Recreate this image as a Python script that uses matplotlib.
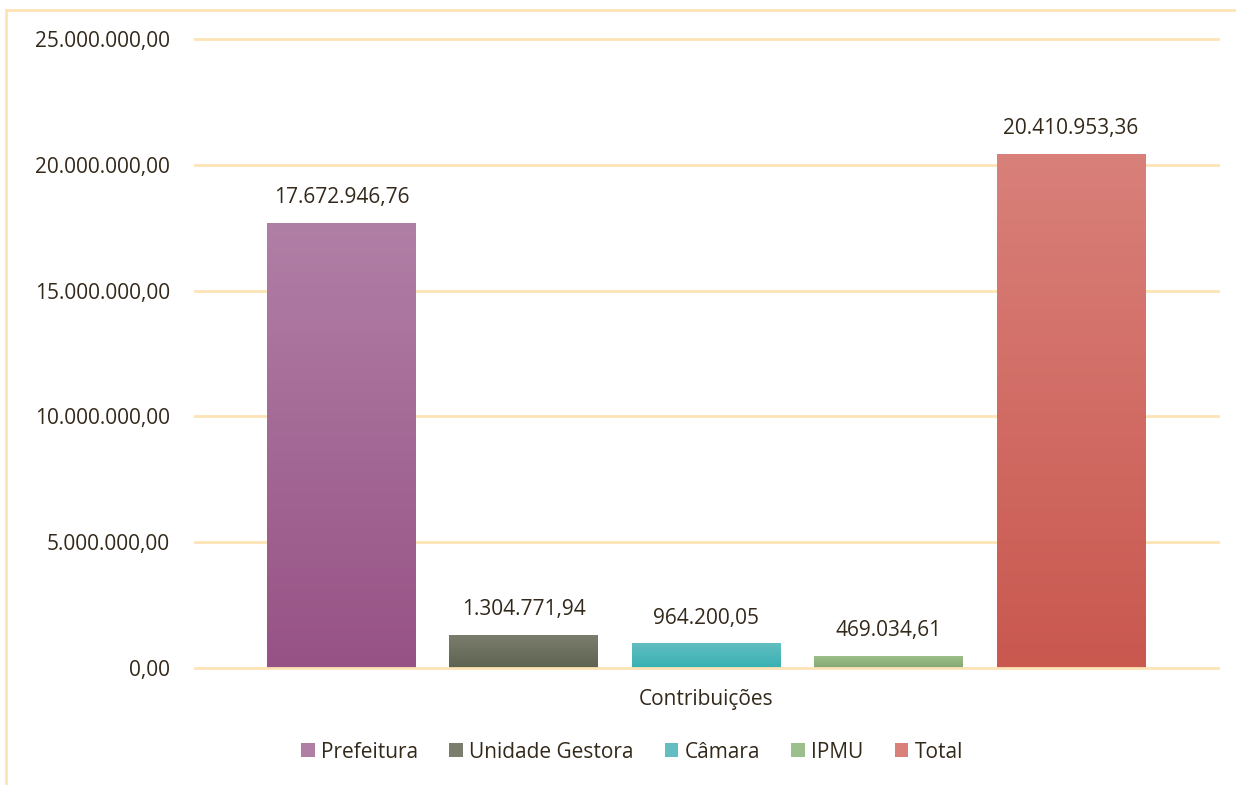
import numpy as np
import matplotlib.pyplot as plt
from matplotlib.patches import Patch
from matplotlib.lines import Line2D
from matplotlib.colors import LinearSegmentedColormap

# --- data ---
categories = ['Prefeitura', 'Unidade Gestora', 'Câmara', 'IPMU', 'Total']
values = [17672946.76, 1304771.94, 964200.05, 469034.61, 20410953.36]
labels = ['17.672.946,76', '1.304.771,94', '964.200,05', '469.034,61', '20.410.953,36']
y_ticks = [0, 5000000, 10000000, 15000000, 20000000, 25000000]
y_tick_labels = ['0,00', '5.000.000,00', '10.000.000,00', '15.000.000,00',
                 '20.000.000,00', '25.000.000,00']
group_label = 'Contribuições'

# gradient colours (top, bottom) per bar
top_colors = ['#b07fa6', '#7b7e6d', '#62bec0', '#9cbf8b', '#d9807a']
bottom_colors = ['#975285', '#5d6250', '#37b0b3', '#84a772', '#c9584f']

text_color = '#33291b'
grid_color = '#fde4b5'

plt.rcParams['font.family'] = ['Open Sans', 'DejaVu Sans']

fig = plt.figure(figsize=(12.36, 7.85), dpi=100)
ax = fig.add_axes([195 / 1236, 1 - 668 / 785, (1218 - 195) / 1236, (668 - 39) / 785])

bar_w = 0.816
x = np.arange(len(categories))

for yt in y_ticks:
    ax.axhline(yt, color=grid_color, lw=2, zorder=4 if yt == 0 else 0, clip_on=False)

grad = np.linspace(0, 1, 256).reshape(-1, 1)
for i, v in enumerate(values):
    cmap = LinearSegmentedColormap.from_list('g%d' % i, [bottom_colors[i], top_colors[i]])
    left = x[i] - bar_w / 2
    ax.imshow(grad, cmap=cmap, origin='lower', aspect='auto',
              extent=(left, left + bar_w, 0, v), zorder=2)
    ax.text(x[i], v + 600000, labels[i], ha='center', va='bottom',
            fontsize=15, color=text_color, zorder=3)

# imshow resets limits
ax.set_xlim(-0.803, len(categories) - 1 + 0.806)
ax.set_ylim(0, 25000000)

ax.set_yticks(y_ticks)
ax.set_yticklabels(y_tick_labels, fontsize=15, color=text_color)
ax.tick_params(axis='y', length=0, pad=18)
ax.set_xticks([])
for s in ax.spines.values():
    s.set_visible(False)

fig.text((195 + 1218) / 2 / 1236, 1 - 700 / 785, group_label, ha='center', va='center',
         fontsize=15, color=text_color)

handles = [Patch(facecolor=(top_colors[i]), edgecolor='none') for i in range(len(categories))]
leg = fig.legend(handles, categories, loc='center', bbox_to_anchor=(632 / 1236, 1 - 752 / 785),
                 ncol=5, frameon=False, fontsize=15, handlelength=0.65, handleheight=0.65,
                 handletextpad=0.3, columnspacing=1.5)
for t in leg.get_texts():
    t.set_color(text_color)

# figure border (only top and left visible in the reference)
fig.add_artist(Line2D([6 / 1236, 6 / 1236], [0, 1 - 10 / 785], transform=fig.transFigure,
                      color=grid_color, lw=2))
fig.add_artist(Line2D([6 / 1236, 1], [1 - 10 / 785, 1 - 10 / 785], transform=fig.transFigure,
                      color=grid_color, lw=2))

fig.savefig('out.png', dpi=100)
